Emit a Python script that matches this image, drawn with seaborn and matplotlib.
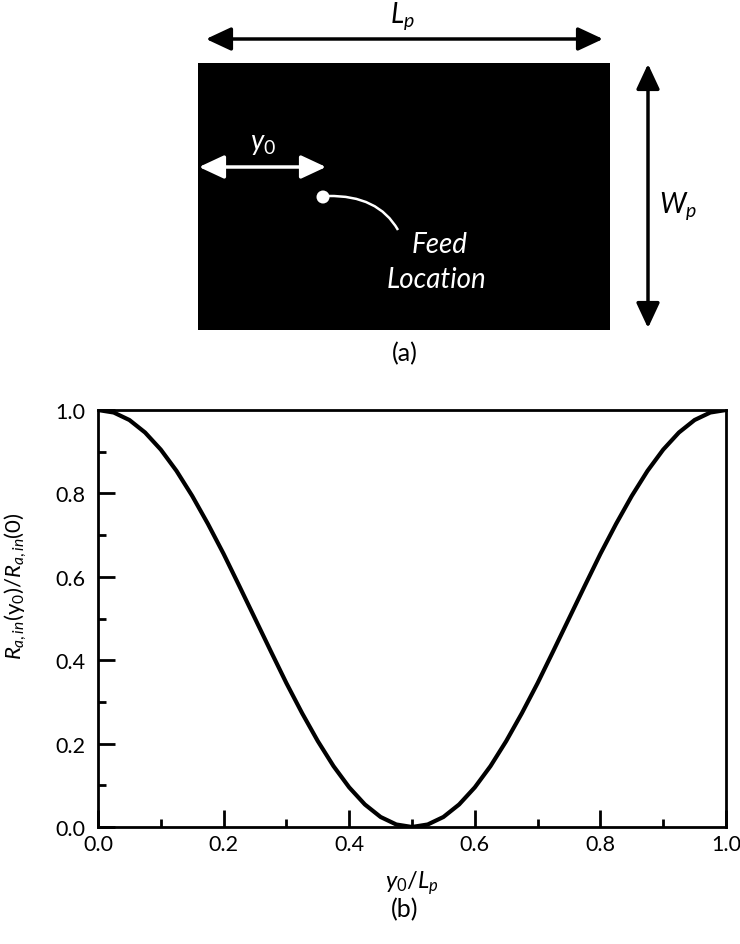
import numpy as np
import pandas as pd
import matplotlib
matplotlib.use("Agg")
import matplotlib.pyplot as plt
import seaborn as sns
from matplotlib.patches import Rectangle, Circle, PathPatch
from matplotlib.path import Path

# ---- data ----
x_pos = [0.000, 0.025, 0.050, 0.075, 0.100, 0.125, 0.150, 0.175, 0.200, 0.225,
         0.250, 0.275, 0.300, 0.325, 0.350, 0.375, 0.400, 0.425, 0.450, 0.475,
         0.500, 0.525, 0.550, 0.575, 0.600, 0.625, 0.650, 0.675, 0.700, 0.725,
         0.750, 0.775, 0.800, 0.825, 0.850, 0.875, 0.900, 0.925, 0.950, 0.975, 1.000]
r_ratio = [1.000, 0.994, 0.976, 0.946, 0.905, 0.854, 0.794, 0.727, 0.655, 0.578,
           0.500, 0.422, 0.345, 0.273, 0.206, 0.146, 0.095, 0.054, 0.024, 0.006,
           0.000, 0.006, 0.024, 0.054, 0.095, 0.146, 0.206, 0.273, 0.345, 0.422,
           0.500, 0.578, 0.655, 0.727, 0.794, 0.854, 0.905, 0.946, 0.976, 0.994, 1.000]
major_ticks = [0.0, 0.2, 0.4, 0.6, 0.8, 1.0]
minor_ticks = [0.1, 0.3, 0.5, 0.7, 0.9]
tick_labels = ["0.0", "0.2", "0.4", "0.6", "0.8", "1.0"]

sns.set_theme(style="white")
plt.rcParams["font.family"] = ["Lato", "DejaVu Sans"]
plt.rcParams["mathtext.fontset"] = "custom"
plt.rcParams["mathtext.rm"] = "Lato"
plt.rcParams["mathtext.it"] = "Lato:italic"
plt.rcParams["mathtext.bf"] = "Lato:bold"

W, H = 740, 945
fig = plt.figure(figsize=(W / 100, H / 100), dpi=100)
fig.patch.set_facecolor("white")

# ---- (a) diagram in pixel coordinates ----
axd = fig.add_axes([0, 0, 1, 1])
axd.set_xlim(0, W)
axd.set_ylim(H, 0)
axd.axis("off")

axd.add_patch(Rectangle((198, 64), 412, 267, facecolor="black", edgecolor="none"))

arrow_k = dict(arrowstyle="<|-|>,head_length=0.9,head_width=0.42", lw=2.5,
               shrinkA=0, shrinkB=0, mutation_scale=17)
axd.annotate("", xy=(206, 40), xytext=(603, 40),
             arrowprops=dict(color="black", **arrow_k))
axd.text(402, 16, r"$L_p$", ha="center", va="center", fontsize=20, color="black")

axd.annotate("", xy=(648, 65), xytext=(648, 329),
             arrowprops=dict(color="black", **arrow_k))
axd.text(678, 206, r"$W_p$", ha="center", va="center", fontsize=20, color="black")

axd.annotate("", xy=(199, 168), xytext=(326, 168),
             arrowprops=dict(color="white", **arrow_k))
axd.text(263, 144, r"$y\mathrm{_0}$", ha="center", va="center", fontsize=20, color="white")

axd.add_patch(Circle((323, 198), 6.5, facecolor="white", edgecolor="none"))
curve = Path([(328, 197), (378, 196), (398, 231)], [Path.MOVETO, Path.CURVE3, Path.CURVE3])
axd.add_patch(PathPatch(curve, facecolor="none", edgecolor="white", lw=1.8))
axd.text(440, 245, "Feed", ha="center", va="center", fontsize=20, style="italic", color="white")
axd.text(437, 280, "Location", ha="center", va="center", fontsize=20, style="italic", color="white")

axd.text(405, 354, "(a)", ha="center", va="center", fontsize=18, color="black")
axd.text(405, 910, "(b)", ha="center", va="center", fontsize=18, color="black")

# ---- (b) plot ----
left, right, top, bottom = 98, 726, 411, 828
ax = fig.add_axes([left / W, (H - bottom) / H, (right - left) / W, (bottom - top) / H])
df = pd.DataFrame({"x": x_pos, "y": r_ratio})
sns.lineplot(data=df, x="x", y="y", ax=ax, color="black", lw=3.0)
ax.set_xlim(0, 1)
ax.set_ylim(0, 1)
ax.set_facecolor("white")
for s in ax.spines.values():
    s.set_visible(True)
    s.set_color("black")
    s.set_linewidth(2.0)

ax.set_xticks(major_ticks)
ax.set_xticklabels(tick_labels)
ax.set_yticks(major_ticks)
ax.set_yticklabels(tick_labels)
ax.set_xticks(minor_ticks, minor=True)
ax.set_yticks(minor_ticks, minor=True)
ax.tick_params(which="both", direction="in", bottom=True, left=True, top=False, right=False,
               color="black", width=2.0)
ax.tick_params(which="major", length=12)
ax.tick_params(which="minor", length=6)
ax.tick_params(axis="x", which="major", labelsize=15.5, pad=5, labelcolor="black")
ax.tick_params(axis="y", which="major", labelsize=15.5, pad=9, labelcolor="black")

ax.set_xlabel(r"$y_0/L_p$", fontsize=17, color="black", labelpad=10)
ax.set_ylabel(r"$R_{a,in}(\mathrm{y_0})/R_{a,in}(\mathrm{0})$", fontsize=16, color="black")
ax.yaxis.set_label_coords(-0.11, 0.58)

fig.savefig("out.png", dpi=100, facecolor="white")
